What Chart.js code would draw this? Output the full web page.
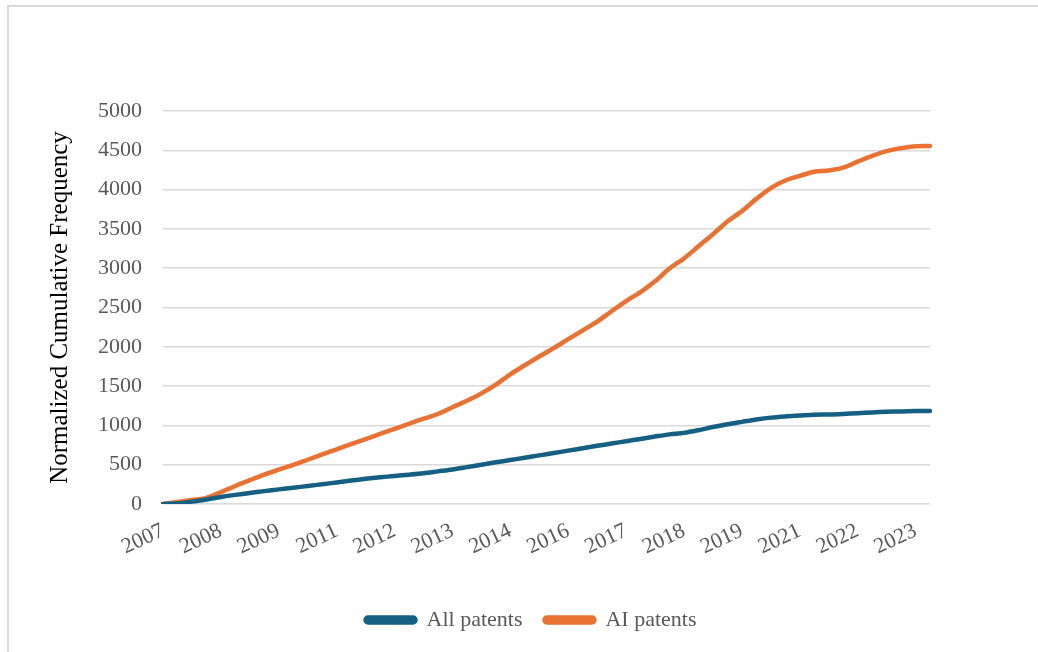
<!DOCTYPE html>
<html>
<head>
<meta charset="utf-8">
<script src="https://cdn.jsdelivr.net/npm/chart.js@4"></script>
<style>
  body { margin: 0; background: #fff; }
  #frame { position: absolute; left: 7px; top: 5px; width: 1100px; height: 700px;
           border-left: 2px solid #d9d9d9; border-top: 2px solid #d9d9d9; }
  #chart { position: absolute; left: 0; top: 0; }
</style>
</head>
<body>
<div id="frame"></div>
<canvas id="chart" width="1038" height="652"></canvas>
<script>
// year shown under every 4th point
const tickYears = ['2007', '2008', '2009', '2011', '2012', '2013', '2014',
    '2016', '2017', '2018', '2019', '2021', '2022', '2023']

const allPatents = [
    0, 7, 30, 58, 89, 116, 140, 164, 186, 207,
    229, 251, 274, 298, 320, 339, 357, 373, 391, 415,
    439, 469, 500, 530, 559, 589, 619, 648, 679, 710,
    740, 769, 799, 828, 858, 886, 905, 939, 979, 1014,
    1045, 1075, 1099, 1114, 1125, 1136, 1139, 1146, 1155, 1165,
    1173, 1178, 1182, 1183
]

const aiPatents = [
    0, 25, 50, 78, 150, 229, 303, 374, 436, 497,
    563, 630, 696, 761, 826, 891, 956, 1021, 1085, 1145,
    1231, 1313, 1407, 1520, 1650, 1765, 1876, 1983, 2097, 2208,
    2320, 2452, 2582, 2695, 2833, 2996, 3124, 3279, 3431, 3594,
    3726, 3882, 4020, 4116, 4175, 4228, 4244, 4280, 4355, 4429,
    4490, 4528, 4552, 4555
]

const labels = allPatents.map((_, i) => tickYears[Math.min(Math.floor(i / 4), tickYears.length - 1)])

const FONT = "'Liberation Serif', 'Times New Roman', serif"
const GREY = '#595959'

// legend sits right of centre in the original
const legendShift = {
    id: 'legendShift',
    afterLayout(chart) {
        chart.legend.left += 66
        chart.legend.right += 66
    }
}

const ctx = document.getElementById('chart').getContext('2d')
const chart = new Chart(ctx, {
    type: 'line',
    data: {
        labels,
        datasets: [
            {
                label: 'All patents',
                data: allPatents,
                borderColor: '#156082',
                backgroundColor: '#156082',
                borderWidth: 4.5,
                pointRadius: 0,
                tension: 0.3,
                borderCapStyle: 'round'
            },
            {
                label: 'AI patents',
                data: aiPatents,
                borderColor: '#E97132',
                backgroundColor: '#E97132',
                borderWidth: 4.5,
                pointRadius: 0,
                tension: 0.3,
                borderCapStyle: 'round'
            }
        ]
    },
    options: {
        responsive: false,
        animation: false,
        layout: { padding: { left: 0, right: 108, top: 111, bottom: 11 } },
        plugins: {
            tooltip: { enabled: false },
            legend: {
                position: 'bottom',
                labels: {
                    color: GREY,
                    font: { family: FONT, size: 22 },
                    boxWidth: 50,
                    boxHeight: 5,
                    useBorderRadius: true,
                    borderRadius: 2.5,
                    padding: 22
                }
            }
        },
        scales: {
            x: {
                grid: { display: false },
                border: { display: false },
                afterFit: s => { s.height = 83 },
                ticks: {
                    autoSkip: false,
                    minRotation: 25,
                    maxRotation: 25,
                    padding: 6,
                    color: GREY,
                    font: { family: FONT, size: 22 },
                    callback: (v, i) => (i % 4 === 0 ? tickYears[i / 4] : null)
                }
            },
            y: {
                min: 0,
                max: 5000,
                afterFit: s => { s.width = 163 },
                grid: { color: '#d9d9d9', lineWidth: 1.5, drawTicks: false },
                border: { display: false },
                ticks: {
                    stepSize: 500,
                    padding: 21,
                    color: GREY,
                    font: { family: FONT, size: 22 },
                    callback: v => String(v)
                },
                title: {
                    display: true,
                    text: 'Normalized Cumulative Frequency',
                    color: '#000',
                    font: { family: FONT, size: 25 },
                    padding: { top: 45, bottom: 0 }
                }
            }
        }
    },
    plugins: [legendShift]
})
</script>
</body>
</html>
